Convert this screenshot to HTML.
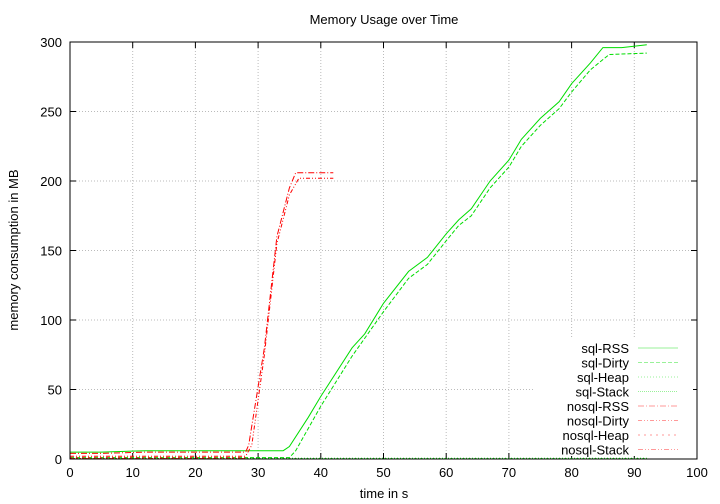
<!DOCTYPE html>
<html><head><meta charset="utf-8"><style>
body{margin:0;background:#fff;}
svg{display:block;font-family:"Liberation Sans",sans-serif;}
</style></head><body>
<svg id="chart" width="720" height="504">
<text x="384" y="24" font-size="13" text-anchor="middle">Memory Usage over Time</text>
<text x="384" y="498" font-size="13" text-anchor="middle">time in s</text>
<text transform="translate(18,250) rotate(-90)" font-size="13" text-anchor="middle">memory consumption in MB</text>
<g id="grid"></g><g id="series"></g><g id="legend"></g>
<rect x="70" y="42" width="627" height="417" fill="none" stroke="#000" stroke-width="1"/>
</svg>
<script>
const xTicks=[0,10,20,30,40,50,60,70,80,90,100];
const yTicks=[0,50,100,150,200,250,300];
const sqlRssX=[0,5,12,34,35,38,40,45,47,50,54,57,60,62,64,67,70,72,75,78,80,83,85,88,92];
const sqlRssY=[5,5,6,6,9,30,45,80,90,112,135,145,162,172,180,200,215,230,245,257,270,285,296,296,298];
const sqlDirtyX=[0,35,36,40,45,50,54,57,60,62,64,67,70,72,75,78,80,83,86,92];
const sqlDirtyY=[1,1,6,38,74,106,130,140,157,168,175,195,210,225,240,252,264,280,291,292];
const sqlHeapX=[0,92];const sqlHeapY=[0.5,0.5];
const sqlStackX=[0,92];const sqlStackY=[0.2,0.2];
const nosqlRssX=[0,5,12,28,28.5,31,33,35,36,42];
const nosqlRssY=[4,4,5,5,10,80,160,195,206,206];
const nosqlDirtyX=[0,28,29,31,33,35,36.5,42];
const nosqlDirtyY=[2,2,10,75,155,190,202,202];
const nosqlHeapX=[0,28];const nosqlHeapY=[0.8,0.8];
const nosqlStackX=[0,28];const nosqlStackY=[0.3,0.3];
const legendLabels=["sql-RSS","sql-Dirty","sql-Heap","sql-Stack","nosql-RSS","nosql-Dirty","nosql-Heap","nosql-Stack"];

const NS="http://www.w3.org/2000/svg";
const sx=v=>70+v*6.27, sy=v=>459-v*417/300;
function mk(t,a,p){const e=document.createElementNS(NS,t);for(const k in a)e.setAttribute(k,a[k]);p.appendChild(e);return e;}
const grid=document.getElementById('grid');
xTicks.forEach(v=>{const x=sx(v);
 if(v>0&&v<100){const l=mk('line',{x1:x,x2:x,y1:42,y2:459,stroke:'#bbb','stroke-dasharray':'1,2'},grid);
 
 }
 mk('line',{x1:x,x2:x,y1:459,y2:453,stroke:'#000'},grid);
 mk('line',{x1:x,x2:x,y1:42,y2:48,stroke:'#000'},grid);
 const t=mk('text',{x:x,y:477,'font-size':13,'text-anchor':'middle'},grid);t.textContent=v;
 
 });
yTicks.forEach(v=>{const y=sy(v);
 if(v>0&&v<300){const l=mk('line',{x1:70,x2:697,y1:y,y2:y,stroke:'#bbb','stroke-dasharray':'1,2'},grid);
 
 }
 mk('line',{x1:70,x2:76,y1:y,y2:y,stroke:'#000'},grid);
 mk('line',{x1:691,x2:697,y1:y,y2:y,stroke:'#000'},grid);
 const t=mk('text',{x:62,y:y+5,'font-size':13,'text-anchor':'end'},grid);t.textContent=v;
 
 });
const series=[
 [sqlRssX,sqlRssY,'#00dd00','none','sql-rss-line'],
 [sqlDirtyX,sqlDirtyY,'#00dd00','4,2','sql-dirty-line'],
 [sqlHeapX,sqlHeapY,'#00dd00','1,2','sql-heap-line'],
 [sqlStackX,sqlStackY,'#00dd00','1,1','sql-stack-line'],
 [nosqlRssX,nosqlRssY,'#ff0000','6,2,1,2','nosql-rss-line'],
 [nosqlDirtyX,nosqlDirtyY,'#ff0000','4,2,1,2,1,2','nosql-dirty-line'],
 [nosqlHeapX,nosqlHeapY,'#ff0000','2,4','nosql-heap-line'],
 [nosqlStackX,nosqlStackY,'#ff0000','5,2,1,2,1,2','nosql-stack-line']];
const lg=document.getElementById('legend');
const bg=mk('rect',{x:535,y:337,width:158,height:119,fill:'#fff'},document.getElementById('grid'));


const sg=document.getElementById('series');
series.forEach(s=>{const pts=s[0].map((x,i)=>sx(x).toFixed(1)+','+sy(s[1][i]).toFixed(1)).join(' ');
 const p=mk('polyline',{points:pts,fill:'none',stroke:s[2],'stroke-width':1,'stroke-dasharray':s[3]},sg);
 
 });
legendLabels.forEach((lab,i)=>{const y=348+i*14.5;
 const t=mk('text',{x:629,y:y+5,'font-size':13,'text-anchor':'end'},lg);t.textContent=lab;
 
 
 const s=series[i];
 mk('line',{x1:638,x2:678,y1:y,y2:y,stroke:s[2],'stroke-opacity':0.4,'stroke-dasharray':s[3]},lg);});
</script>
</body></html>
